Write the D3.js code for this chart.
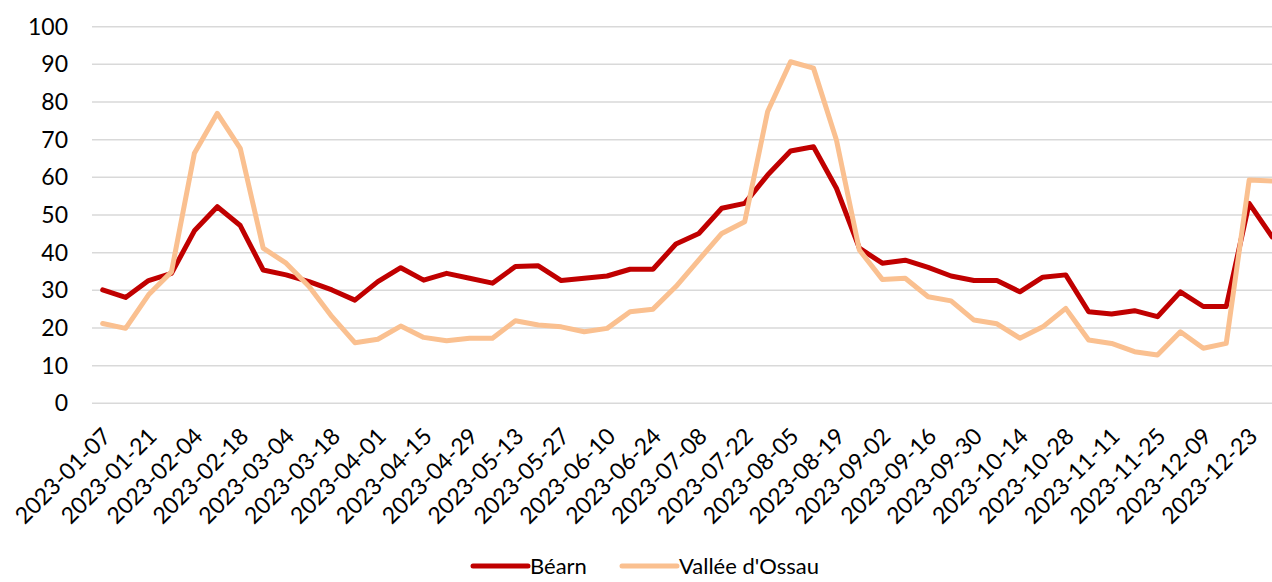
<!DOCTYPE html>
<html>
<head>
<meta charset="utf-8">
<script src="https://cdn.jsdelivr.net/npm/d3@7"></script>
<style>
  body { margin: 0; background: #fff; }
  text { font-family: Lato, "DejaVu Sans", sans-serif; fill: #000; }
</style>
</head>
<body>
<div class="svg-container"></div>
<script>
var width = 1272,
  height = 582;

var weeks = ["2023-01-07","2023-01-14","2023-01-21","2023-01-28","2023-02-04","2023-02-11",
  "2023-02-18","2023-02-25","2023-03-04","2023-03-11","2023-03-18","2023-03-25","2023-04-01",
  "2023-04-08","2023-04-15","2023-04-22","2023-04-29","2023-05-06","2023-05-13","2023-05-20",
  "2023-05-27","2023-06-03","2023-06-10","2023-06-17","2023-06-24","2023-07-01","2023-07-08",
  "2023-07-15","2023-07-22","2023-07-29","2023-08-05","2023-08-12","2023-08-19","2023-08-26",
  "2023-09-02","2023-09-09","2023-09-16","2023-09-23","2023-09-30","2023-10-07","2023-10-14",
  "2023-10-21","2023-10-28","2023-11-04","2023-11-11","2023-11-18","2023-11-25","2023-12-02",
  "2023-12-09","2023-12-16","2023-12-23","2023-12-30"];

var bearn = [30.1, 28.1, 32.6, 34.5, 45.8, 52.2, 47.2, 35.4, 34.1, 32.3,
  30.1, 27.4, 32.3, 36.0, 32.7, 34.5, 33.2, 31.9, 36.3, 36.5,
  32.6, 33.2, 33.8, 35.6, 35.6, 42.3, 45.1, 51.8, 53.1, 60.6,
  67.0, 68.1, 57.1, 41.2, 37.2, 38.0, 36.1, 33.8, 32.6, 32.6,
  29.6, 33.5, 34.1, 24.3, 23.7, 24.6, 23.0, 29.6, 25.7, 25.7,
  53.1, 44.2];

var ossau = [21.2, 19.9, 28.8, 34.9, 66.4, 77.0, 67.7, 41.2, 37.2, 31.0,
  23.0, 16.1, 17.0, 20.5, 17.5, 16.6, 17.3, 17.3, 21.9, 20.8,
  20.3, 19.0, 19.9, 24.3, 25.0, 31.0, 38.1, 45.1, 48.2, 77.5,
  90.7, 89.0, 69.9, 40.7, 32.9, 33.2, 28.3, 27.2, 22.1, 21.1,
  17.3, 20.3, 25.2, 16.8, 15.9, 13.7, 12.8, 19.0, 14.6, 15.9,
  59.3, 59.0];

var yTicks = [0, 10, 20, 30, 40, 50, 60, 70, 80, 90, 100];

var series = [
  { name: "Béarn", values: bearn, color: "#c00000" },
  { name: "Vallée d'Ossau", values: ossau, color: "#fac090" }
];

var svg = d3.select(".svg-container").append("svg")
  .attr("width", width)
  .attr("height", height);

// band scale, the last band runs past the right edge like in the original
var x = d3.scaleBand()
  .domain(weeks)
  .range([91.2, 91.2 + weeks.length * 22.93]);

var y = d3.scaleLinear()
  .domain([0, 100])
  .range([403.3, 26.7]);

var cx = function(d) { return x(d) + x.bandwidth() / 2; };

// gridlines
svg.selectAll(".grid")
  .data(yTicks)
  .enter()
  .append("line")
  .attr("class", "grid")
  .attr("x1", 92)
  .attr("x2", width)
  .attr("y1", function(d) { return y(d); })
  .attr("y2", function(d) { return y(d); })
  .attr("stroke", "#d9d9d9")
  .attr("stroke-width", 1.5);

// y labels
svg.selectAll(".ylab")
  .data(yTicks)
  .enter()
  .append("text")
  .attr("class", "ylab")
  .attr("x", 68)
  .attr("y", function(d) { return y(d); })
  .attr("dy", "0.35em")
  .attr("text-anchor", "end")
  .style("font-size", "23px")
  .text(function(d) { return d; });

// x labels, every second week
svg.selectAll(".xlab")
  .data(weeks.filter(function(d, i) { return i % 2 === 0; }))
  .enter()
  .append("text")
  .attr("class", "xlab")
  .attr("transform", function(d) {
    return "translate(" + (cx(d) + 4) + ",432) rotate(-45)";
  })
  .attr("dy", "0.35em")
  .attr("text-anchor", "end")
  .style("font-size", "23px")
  .text(function(d) { return d; });

var line = d3.line()
  .x(function(d, i) { return cx(weeks[i]); })
  .y(function(d) { return y(d); });

svg.selectAll(".series")
  .data(series)
  .enter()
  .append("path")
  .attr("class", "series")
  .attr("d", function(d) { return line(d.values); })
  .attr("fill", "none")
  .attr("stroke", function(d) { return d.color; })
  .attr("stroke-width", 5)
  .attr("stroke-linejoin", "round")
  .attr("stroke-linecap", "round");

// legend
var legendX = [473, 622];
var legend = svg.selectAll(".legend")
  .data(series)
  .enter()
  .append("g")
  .attr("class", "legend")
  .attr("transform", function(d, i) { return "translate(" + legendX[i] + ",566)"; });

legend.append("line")
  .attr("x1", 0)
  .attr("x2", 55)
  .attr("stroke", function(d) { return d.color; })
  .attr("stroke-width", 5)
  .attr("stroke-linecap", "round");

legend.append("text")
  .attr("x", 57)
  .attr("y", 0)
  .attr("dy", "0.35em")
  .style("font-size", "22px")
  .text(function(d) { return d.name; });
</script>
</body>
</html>
